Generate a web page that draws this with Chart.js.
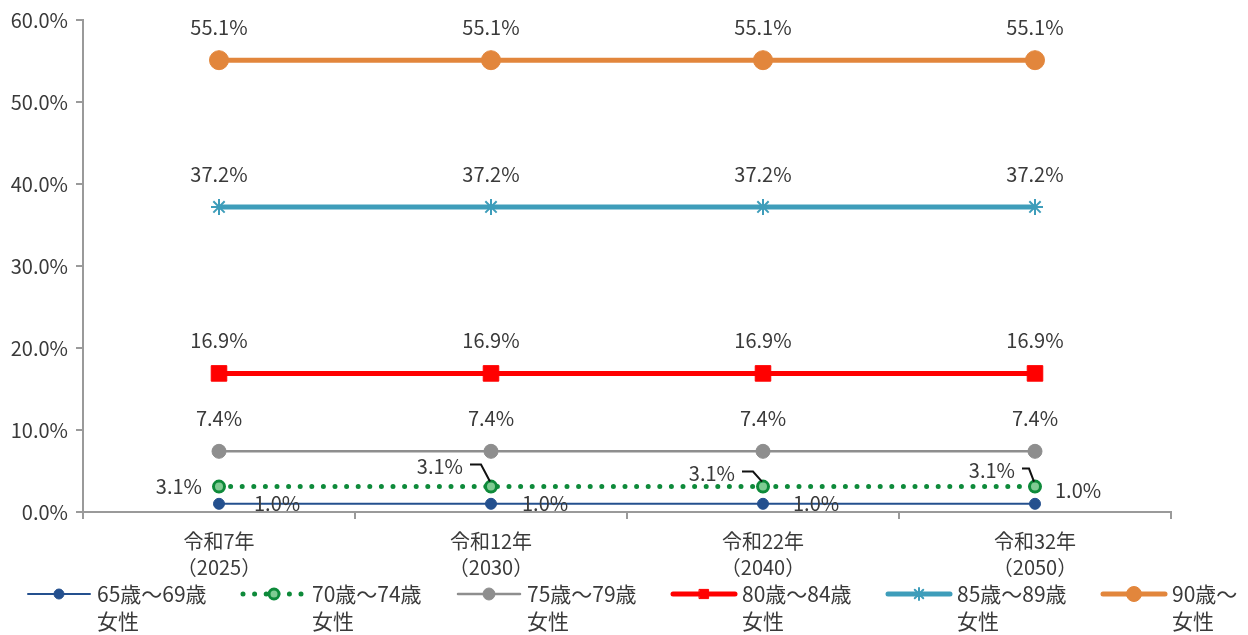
<!DOCTYPE html>
<html><head><meta charset="utf-8">
<script src="https://cdn.jsdelivr.net/npm/chart.js@4.4.1/dist/chart.umd.min.js"></script>
<style>html,body{margin:0;padding:0;background:#fff}#wrap{width:1248px;height:635px;position:relative}</style>
</head><body><div id="wrap"><canvas id="c"></canvas></div>
<script>
// ---- data ----
const categories = [['令和7年','（2025）'], ['令和12年','（2030）'], ['令和22年','（2040）'], ['令和32年','（2050）']];
const seriesNames = [['65歳～69歳','女性'], ['70歳～74歳','女性'], ['75歳～79歳','女性'], ['80歳～84歳','女性'], ['85歳～89歳','女性'], ['90歳～','女性']];
const age65to69 = [1.0, 1.0, 1.0, 1.0];
const age70to74 = [3.1, 3.1, 3.1, 3.1];
const age75to79 = [7.4, 7.4, 7.4, 7.4];
const age80to84 = [16.9, 16.9, 16.9, 16.9];
const age85to89 = [37.2, 37.2, 37.2, 37.2];
const age90plus = [55.1, 55.1, 55.1, 55.1];
const yMin = 0, yMax = 60, yStep = 10;

const FONT = '"Noto Sans CJK JP", "Noto Sans", sans-serif';
const TXT = '#3a3a3a';

const styles = [
  {color:'#24508E', width:2, dash:[], cap:'butt', point:'circle', r:5.5, lr:5, pbg:'#24508E', pbw:1},
  {color:'#0E8A3A', width:5, dash:[0,11.6], cap:'round', point:'circle', r:5.5, lr:5, pbg:'#7FCB92', pbw:3},
  {color:'#8E8E8E', width:2.5, dash:[], cap:'butt', point:'circle', r:7, lr:6, pbg:'#8E8E8E', pbw:1},
  {color:'#FF0000', width:5, dash:[], cap:'butt', point:'rect', r:11, lr:6.5, pbg:'#FF0000', pbw:1},
  {color:'#3E9DBA', width:5, dash:[], cap:'butt', point:'star', r:8, lr:6, pbg:'#3E9DBA', pbw:2},
  {color:'#E2863C', width:5, dash:[], cap:'butt', point:'circle', r:9.5, lr:7.5, pbg:'#E2863C', pbw:1}
];
const seriesData = [age65to69, age70to74, age75to79, age80to84, age85to89, age90plus];

// label placement per series (offsets from point)
const labelPlace = [
  [{dx:35,dy:0,align:'left'},{dx:31,dy:0,align:'left'},{dx:30,dy:0,align:'left'},{dx:20,dy:-13,align:'left'}],
  [{dx:-17,dy:0,align:'right'},{dx:-28,dy:-20,align:'right',leader:true},{dx:-28,dy:-13,align:'right',leader:true},{dx:-20,dy:-16,align:'right',leader:true}],
  null,null,null,null
];

const datasets = seriesData.map((d,i)=>({
  label: seriesNames[i].join(''),
  data: d,
  borderColor: styles[i].color,
  backgroundColor: styles[i].color,
  borderWidth: styles[i].width,
  borderDash: styles[i].dash,
  borderCapStyle: styles[i].cap,
  pointStyle: styles[i].point,
  pointRadius: styles[i].r,
  pointHoverRadius: styles[i].r,
  pointBackgroundColor: styles[i].pbg,
  pointBorderColor: styles[i].color,
  pointBorderWidth: styles[i].pbw,
  tension: 0,
  fill: false
}));

const labelPlugin = {
  id:'valueLabels',
  afterDatasetsDraw(chart){
    const ctx = chart.ctx;
    ctx.save();
    ctx.font = '20px ' + FONT;
    ctx.fillStyle = TXT;
    ctx.textBaseline = 'middle';
    chart.data.datasets.forEach((ds,i)=>{
      const meta = chart.getDatasetMeta(i);
      meta.data.forEach((pt,j)=>{
        const txt = ds.data[j].toFixed(1) + '%';
        const place = labelPlace[i] ? labelPlace[i][j] : null;
        if (!place){
          ctx.textAlign = 'center';
          ctx.fillText(txt, pt.x, pt.y - 33);
        } else {
          ctx.textAlign = place.align;
          const lx = pt.x + place.dx;
          const ly = pt.y + place.dy;
          ctx.fillText(txt, lx, ly);
          if (place.leader){
            ctx.strokeStyle = '#111';
            ctx.lineWidth = 2;
            ctx.beginPath();
            ctx.moveTo(lx + 7, ly - 2);
            ctx.lineTo(lx + Math.max(14, -place.dx - 10), ly - 2);
            ctx.lineTo(pt.x - 1, pt.y - 5);
            ctx.stroke();
          }
        }
      });
    });
    ctx.restore();
  }
};

const legendPlugin = {
  id:'customLegend',
  afterDraw(chart){
    const ctx = chart.ctx;
    ctx.save();
    chart.data.datasets.forEach((ds,i)=>{
      const st = styles[i];
      const x0 = 28 + i*215, x1 = x0 + 62, y = 594;
      ctx.strokeStyle = st.color;
      ctx.lineWidth = st.width;
      ctx.setLineDash(st.dash);
      ctx.lineCap = 'round';
      ctx.beginPath(); ctx.moveTo(x0, y); ctx.lineTo(x1, y); ctx.stroke();
      ctx.setLineDash([]);
      ctx.fillStyle = st.pbg;
      ctx.strokeStyle = st.color;
      ctx.lineWidth = st.pbw;
      Chart.helpers.drawPoint(ctx, {pointStyle: st.point, radius: st.lr, rotation:0, borderWidth: st.pbw}, (x0+x1)/2, y);
      ctx.fillStyle = TXT;
      ctx.font = '21px ' + FONT;
      ctx.textAlign = 'left';
      ctx.textBaseline = 'middle';
      ctx.fillText(seriesNames[i][0], x1 + 7, y);
      ctx.fillText(seriesNames[i][1], x1 + 7, y + 27);
    });
    ctx.restore();
  }
};

new Chart(document.getElementById('c'), {
  type:'line',
  data:{labels: categories, datasets},
  options:{
    responsive:true, maintainAspectRatio:false, animation:false,
    layout:{padding:{left:0, right:77, top:18, bottom:0}},
    plugins:{legend:{display:false}, tooltip:{enabled:false}},
    scales:{
      x:{
        offset:true,
        grid:{display:true, drawOnChartArea:false, drawTicks:true, tickLength:7, color:'#9A9A9A', lineWidth:2, offset:true},
        border:{display:true, color:'#9A9A9A', width:2},
        ticks:{color:TXT, font:{family:FONT, size:20, lineHeight:1.3}, padding:9, maxRotation:0, autoSkip:false},
        afterFit(s){ s.height = 123; }
      },
      y:{
        min:yMin, max:yMax,
        grid:{display:true, drawOnChartArea:false, drawTicks:true, tickLength:7, color:'#9A9A9A', lineWidth:2},
        border:{display:true, color:'#9A9A9A', width:2},
        ticks:{stepSize:yStep, color:TXT, font:{family:FONT, size:20}, padding:8, callback:v=>v.toFixed(1)+'%'},
        afterFit(s){ s.width = 83; }
      }
    }
  },
  plugins:[labelPlugin, legendPlugin]
});
</script></body></html>
